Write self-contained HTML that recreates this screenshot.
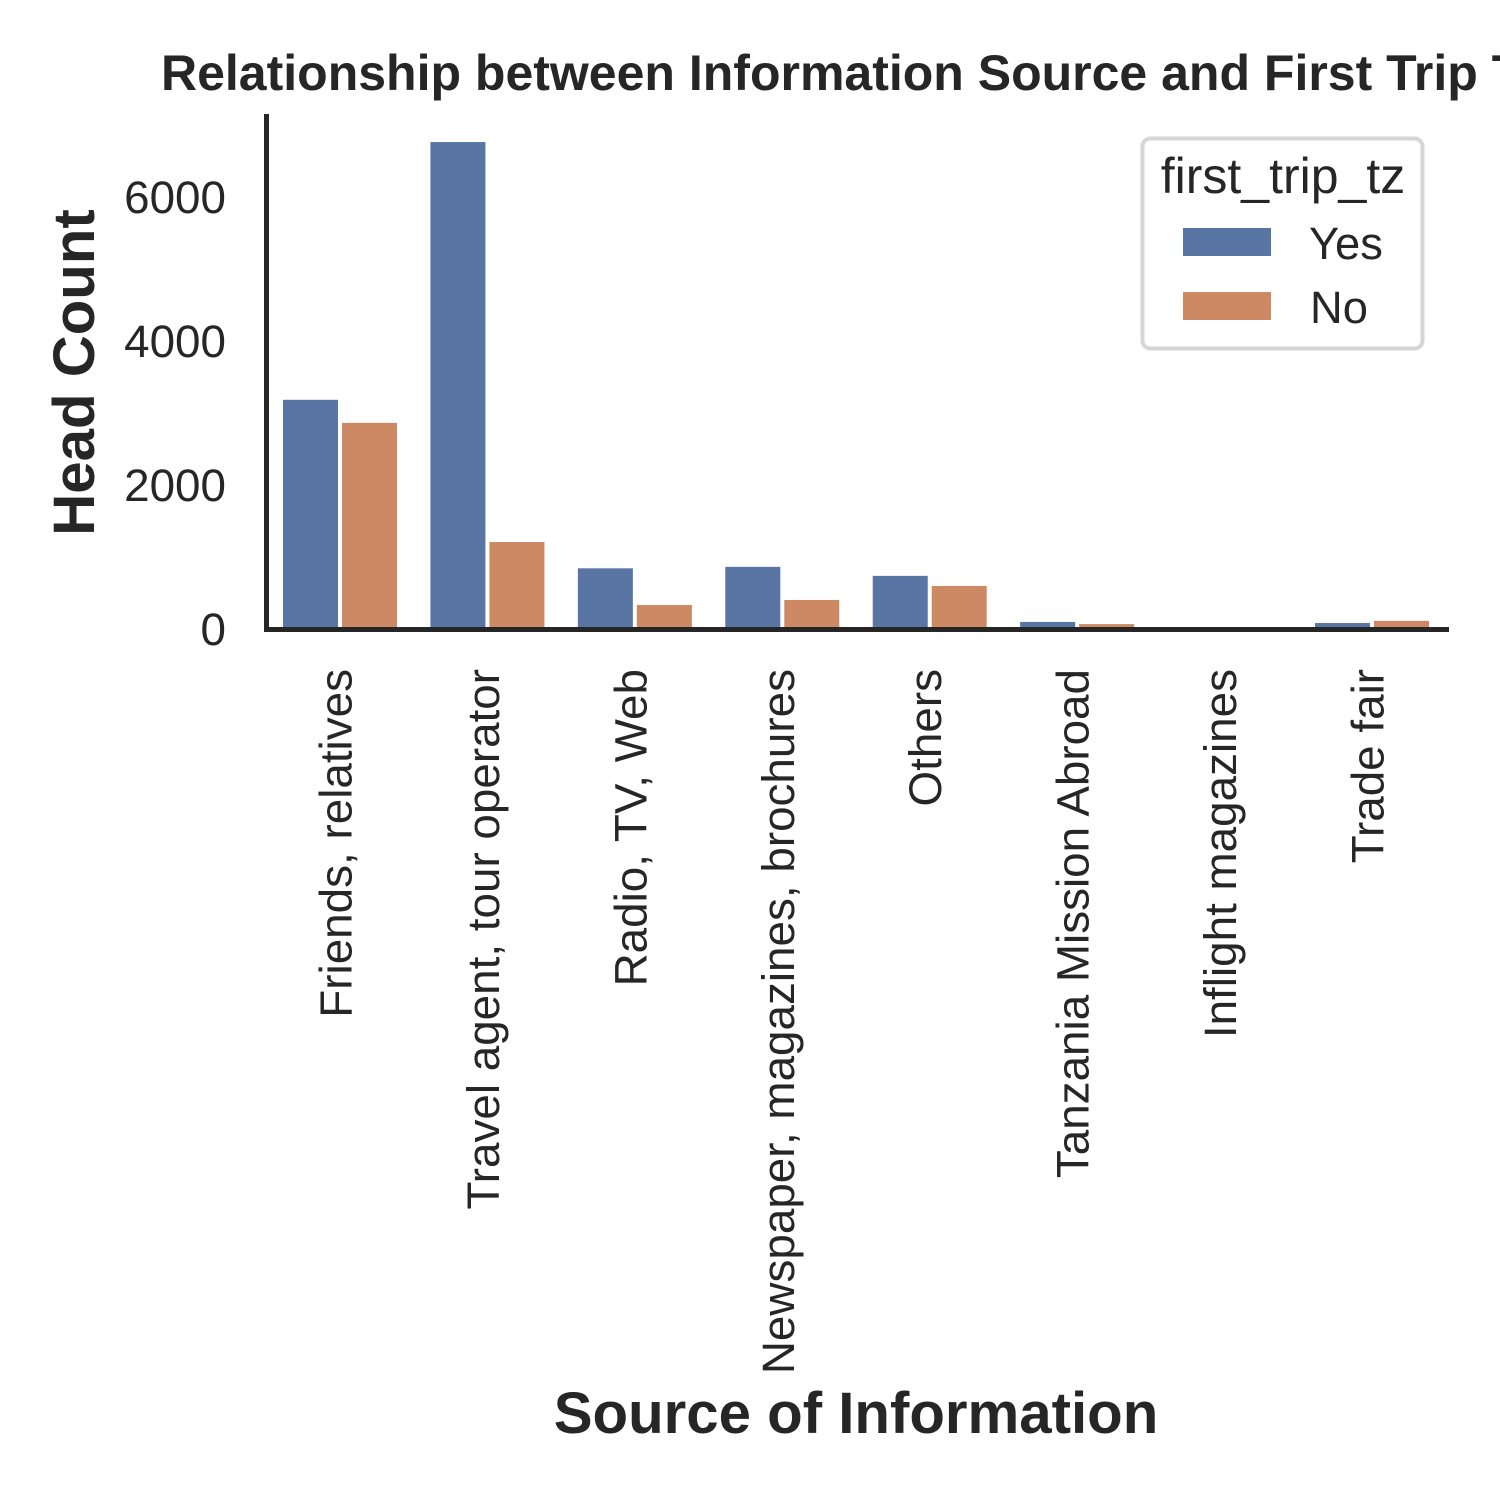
<!DOCTYPE html>
<html lang="en">
<head>
<meta charset="utf-8">
<title>Relationship between Information Source and First Trip To Tanzania</title>
<style>
html,body{margin:0;padding:0;background:#fff;width:1500px;height:1500px;overflow:hidden}
svg{display:block}
text{font-family:"Liberation Sans",Arial,sans-serif;fill:#262626}
</style>
</head>
<body>
<svg id="chart" xmlns="http://www.w3.org/2000/svg" width="1500" height="1500" viewBox="0 0 1500 1500">
  <g id="bars"></g>
  <g id="y-ticks"></g>
  <g id="x-ticks"></g>
  <rect x="264" y="114" width="5" height="518" fill="#262626"/>
  <rect x="264" y="627" width="1185" height="5" fill="#262626"/>
  <text x="161" y="90" font-size="50" font-weight="bold">Relationship between Information Source and First Trip To Tanzania</text>
  <text transform="translate(94 372.5) rotate(-90)" text-anchor="middle" font-size="58.2" font-weight="bold">Head Count</text>
  <text x="856" y="1433" text-anchor="middle" font-size="58.2" font-weight="bold">Source of Information</text>
  <g>
    <rect x="1142.5" y="138.5" width="280" height="210" rx="8" fill="#fff" stroke="#d6d6d6" stroke-width="4"/>
    <text x="1283" y="193" text-anchor="middle" font-size="50">first_trip_tz</text>
    <rect x="1183" y="228" width="88" height="28" fill="#5975a4"/>
    <text x="1309" y="259" font-size="45.3">Yes</text>
    <rect x="1183" y="292" width="88" height="28" fill="#cc8963"/>
    <text x="1310" y="323" font-size="45.3">No</text>
  </g>
</svg>
<script>
const categories = ["Friends, relatives", "Travel agent, tour operator", "Radio, TV, Web", "Newspaper, magazines, brochures", "Others", "Tanzania Mission Abroad", "Inflight magazines", "Trade fair"];
const yesValues = [3190, 6770, 850, 870, 745, 105, 8, 90];
const noValues = [2870, 1215, 340, 410, 605, 75, 5, 120];
const yTickValues = [0, 2000, 4000, 6000];

const SVG_NS = 'http://www.w3.org/2000/svg';
function xScale(index) { return 340 + index * 147.43; }
function yScale(value) { return 629.5 - value * 0.072; }

const barsGroup = document.getElementById('bars');
const yTicksGroup = document.getElementById('y-ticks');
const xTicksGroup = document.getElementById('x-ticks');

function drawBar(value, index, offset, fill, name) {
  const rect = document.createElementNS(SVG_NS, 'rect');
  const top = yScale(value);
  rect.setAttribute('x', xScale(index) + offset - 27.5);
  rect.setAttribute('y', top);
  rect.setAttribute('width', 55);
  rect.setAttribute('height', Math.max(0, yScale(0) - top));
  rect.setAttribute('fill', fill);
  
  
  barsGroup.appendChild(rect);
}

yesValues.forEach(function (value, index) {
  drawBar(value, index, -29.5, '#5975a4', 'bar-yes');
});
noValues.forEach(function (value, index) {
  drawBar(value, index, 29.5, '#cc8963', 'bar-no');
});

yTickValues.forEach(function (value) {
  const label = document.createElementNS(SVG_NS, 'text');
  label.setAttribute('x', 226);
  label.setAttribute('y', yScale(value) + 15.5);
  label.setAttribute('text-anchor', 'end');
  label.setAttribute('font-size', '45.8');
  
  
  label.textContent = String(value);
  yTicksGroup.appendChild(label);
});

categories.forEach(function (category, index) {
  const label = document.createElementNS(SVG_NS, 'text');
  label.setAttribute('transform', 'translate(' + (xScale(index) + 11.5) + ' 669) rotate(-90)');
  label.setAttribute('text-anchor', 'end');
  label.setAttribute('font-size', '45.8');
  
  
  label.textContent = category;
  xTicksGroup.appendChild(label);
});
</script>
</body>
</html>
